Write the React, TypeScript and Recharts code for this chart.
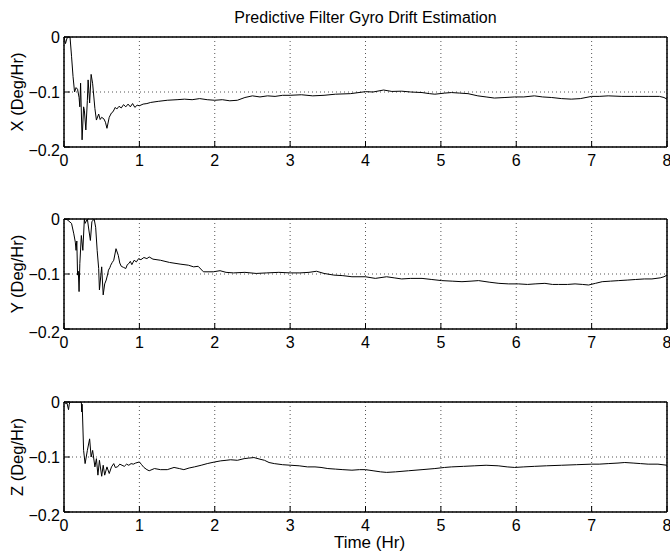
import React from "react";
import { LineChart, Line, XAxis, YAxis, CartesianGrid, Label, ReferenceArea } from "recharts";

const xTicks = [0, 1, 2, 3, 4, 5, 6, 7, 8];
const yTicks = [-0.2, -0.1, 0];
const title = "Predictive Filter Gyro Drift Estimation";
const xLabel = "Time (Hr)";
const channelLabels = ["X (Deg/Hr)", "Y (Deg/Hr)", "Z (Deg/Hr)"];

const xTime = [0,0.02,0.04,0.06,0.08,0.10,0.12,0.14,0.16,0.18,0.20,0.21,0.22,0.24,0.26,0.27,0.29,0.31,0.32,0.34,0.36,0.38,0.41,0.43,0.46,0.48,0.50,0.53,0.55,0.57,0.60,0.63,0.65,0.68,0.70,0.73,0.76,0.79,0.82,0.85,0.88,0.91,0.94,0.97,1.00,1.05,1.10,1.15,1.25,1.37,1.5,1.6,1.7,1.8,1.9,2.0,2.1,2.2,2.3,2.4,2.5,2.6,2.7,2.8,2.9,3.0,3.15,3.3,3.45,3.6,3.8,4.0,4.1,4.24,4.35,4.48,4.6,4.75,4.85,4.92,5.05,5.14,5.25,5.36,5.49,5.6,5.71,5.85,5.98,6.1,6.24,6.35,6.47,6.6,6.73,6.85,7.0,7.1,7.22,7.4,7.57,7.75,7.9,7.96,8.0];
const xDrift = [0,-0.012,-0.002,0,0,-0.035,-0.072,-0.100,-0.092,-0.095,-0.110,-0.127,-0.084,-0.187,-0.127,-0.133,-0.169,-0.115,-0.078,-0.12,-0.068,-0.085,-0.130,-0.151,-0.140,-0.150,-0.146,-0.149,-0.155,-0.166,-0.146,-0.138,-0.136,-0.128,-0.131,-0.126,-0.129,-0.123,-0.127,-0.122,-0.127,-0.121,-0.128,-0.124,-0.125,-0.122,-0.121,-0.119,-0.117,-0.115,-0.114,-0.113,-0.114,-0.112,-0.114,-0.115,-0.114,-0.116,-0.115,-0.110,-0.107,-0.109,-0.107,-0.108,-0.106,-0.106,-0.105,-0.107,-0.106,-0.104,-0.103,-0.0994,-0.100,-0.0964,-0.099,-0.0985,-0.100,-0.101,-0.103,-0.104,-0.102,-0.101,-0.102,-0.103,-0.107,-0.109,-0.111,-0.110,-0.109,-0.109,-0.107,-0.109,-0.110,-0.112,-0.113,-0.112,-0.108,-0.108,-0.107,-0.108,-0.108,-0.108,-0.108,-0.110,-0.113];

const yTime = [0,0.04,0.1,0.13,0.15,0.16,0.17,0.18,0.19,0.20,0.21,0.23,0.25,0.27,0.28,0.31,0.33,0.35,0.37,0.40,0.42,0.44,0.46,0.47,0.50,0.52,0.54,0.56,0.58,0.59,0.61,0.62,0.64,0.66,0.69,0.72,0.74,0.76,0.79,0.82,0.84,0.86,0.88,0.9,0.93,0.96,0.99,1.02,1.06,1.10,1.13,1.18,1.28,1.4,1.54,1.65,1.72,1.78,1.85,1.98,2.07,2.15,2.25,2.4,2.55,2.69,2.85,3.0,3.13,3.25,3.35,3.45,3.58,3.7,3.82,4.0,4.13,4.28,4.38,4.48,4.6,4.75,4.88,5.01,5.15,5.28,5.4,5.5,5.65,5.77,5.9,6.03,6.15,6.25,6.38,6.48,6.56,6.68,6.78,6.88,6.96,7.05,7.14,7.25,7.36,7.48,7.58,7.7,7.8,7.91,7.96,8.0];
const yDrift = [0,-0.001,-0.008,-0.027,-0.042,-0.057,-0.04,-0.102,-0.095,-0.132,-0.081,-0.030,-0.057,0,-0.008,0,-0.02,-0.039,-0.005,0,-0.015,-0.057,-0.09,-0.129,-0.087,-0.138,-0.118,-0.111,-0.1,-0.093,-0.088,-0.084,-0.079,-0.075,-0.054,-0.066,-0.08,-0.086,-0.088,-0.090,-0.083,-0.081,-0.077,-0.083,-0.075,-0.078,-0.072,-0.074,-0.070,-0.072,-0.069,-0.073,-0.075,-0.079,-0.082,-0.084,-0.087,-0.086,-0.096,-0.096,-0.094,-0.097,-0.098,-0.097,-0.099,-0.098,-0.097,-0.098,-0.098,-0.097,-0.095,-0.099,-0.102,-0.103,-0.105,-0.105,-0.108,-0.105,-0.107,-0.109,-0.108,-0.108,-0.110,-0.112,-0.113,-0.114,-0.113,-0.112,-0.115,-0.117,-0.118,-0.118,-0.119,-0.118,-0.117,-0.119,-0.119,-0.119,-0.118,-0.119,-0.120,-0.117,-0.114,-0.113,-0.112,-0.111,-0.110,-0.109,-0.109,-0.107,-0.105,-0.102];

const zTime = [0,0.02,0.04,0.06,0.07,0.08,0.23,0.235,0.24,0.245,0.26,0.28,0.31,0.34,0.36,0.38,0.41,0.43,0.45,0.47,0.50,0.52,0.54,0.57,0.60,0.63,0.66,0.68,0.71,0.74,0.77,0.80,0.83,0.86,0.89,0.92,0.95,1.0,1.03,1.06,1.10,1.13,1.2,1.28,1.37,1.46,1.53,1.59,1.66,1.73,1.82,1.9,2.0,2.08,2.15,2.21,2.3,2.39,2.45,2.52,2.6,2.66,2.72,2.79,2.9,3.01,3.12,3.23,3.33,3.41,3.5,3.6,3.7,3.82,3.92,4.0,4.1,4.2,4.28,4.4,4.57,4.75,4.92,5.05,5.14,5.3,5.45,5.6,5.76,5.88,5.98,6.1,6.24,6.4,6.6,6.8,7.0,7.1,7.22,7.35,7.44,7.55,7.65,7.75,7.88,8.0];
const zDrift = [0,-0.003,-0.002,-0.014,-0.004,0,0,-0.018,-0.004,-0.02,-0.088,-0.112,-0.088,-0.067,-0.100,-0.088,-0.118,-0.103,-0.133,-0.106,-0.135,-0.115,-0.133,-0.118,-0.130,-0.118,-0.112,-0.119,-0.118,-0.113,-0.115,-0.117,-0.113,-0.115,-0.112,-0.113,-0.111,-0.109,-0.114,-0.119,-0.123,-0.125,-0.121,-0.123,-0.123,-0.119,-0.121,-0.123,-0.120,-0.118,-0.115,-0.112,-0.109,-0.107,-0.106,-0.105,-0.106,-0.103,-0.102,-0.101,-0.104,-0.106,-0.110,-0.112,-0.114,-0.115,-0.116,-0.118,-0.118,-0.119,-0.121,-0.122,-0.123,-0.124,-0.123,-0.123,-0.125,-0.127,-0.128,-0.127,-0.125,-0.123,-0.121,-0.119,-0.118,-0.117,-0.116,-0.115,-0.116,-0.118,-0.119,-0.118,-0.117,-0.116,-0.115,-0.114,-0.113,-0.113,-0.112,-0.111,-0.110,-0.111,-0.112,-0.113,-0.113,-0.115];

const build = (t: number[], v: number[]) => t.map((time, i) => ({ t: time, v: v[i] }));
const channels = [build(xTime, xDrift), build(yTime, yDrift), build(zTime, zDrift)];
const chartTops = [0, 182, 365];

const FONT = "'Liberation Sans', Arial, Helvetica, sans-serif";
const TICK_FS = 16;
const fmt = (v: number) => (v === 0 ? "0" : (v < 0 ? "\u2212" : "") + Math.abs(v).toFixed(1));

const YTick = (props: any) => {
  const { x, y, payload } = props;
  const extra = payload.value === -0.2 ? 3 : 0;
  return (
    <text x={x} y={y + extra} dy="0.355em" textAnchor="end" fontSize={TICK_FS} fill="#000" fontFamily={FONT}>
      {fmt(payload.value)}
    </text>
  );
};

const Panel = ({ data, label }: { data: { t: number; v: number }[]; label: string }) => (
  <LineChart width={670} height={180} data={data} margin={{ top: 36, right: 2, bottom: 0, left: 0 }}>
    <CartesianGrid stroke="#555" strokeDasharray="1 3" strokeWidth={1} />
    <ReferenceArea x1={0} x2={8} y1={-0.2} y2={0} fill="none" stroke="#000" strokeWidth={1} ifOverflow="visible" />
    <XAxis
      dataKey="t"
      type="number"
      domain={[0, 8]}
      ticks={xTicks}
      interval={0}
      height={33}
      tickSize={-6}
      tickMargin={14}
      axisLine={{ stroke: "#000", strokeWidth: 1 }}
      tickLine={{ stroke: "#000" }}
      tick={{ fill: "#000", fontSize: TICK_FS, fontFamily: FONT }}
      allowDataOverflow
    />
    <XAxis
      xAxisId="top"
      orientation="top"
      dataKey="t"
      type="number"
      domain={[0, 8]}
      ticks={xTicks}
      interval={0}
      height={1}
      tickSize={-6}
      tick={false}
      axisLine={{ stroke: "#000", strokeWidth: 1 }}
      tickLine={{ stroke: "#000" }}
      allowDataOverflow
    />
    <YAxis
      type="number"
      domain={[-0.2, 0]}
      ticks={yTicks}
      interval={0}
      width={64}
      tickSize={-6}
      tickMargin={10}
      axisLine={{ stroke: "#000", strokeWidth: 1 }}
      tickLine={{ stroke: "#000" }}
      tick={<YTick />}
      allowDataOverflow
    >
      <Label
        value={label}
        angle={-90}
        position="insideLeft"
        offset={17}
        style={{ textAnchor: "middle", fontSize: 16.5, fontFamily: FONT, fill: "#000" }}
      />
    </YAxis>
    <YAxis
      yAxisId="right"
      orientation="right"
      type="number"
      domain={[-0.2, 0]}
      ticks={yTicks}
      interval={0}
      width={1}
      tickSize={-6}
      tick={false}
      axisLine={{ stroke: "#000", strokeWidth: 1 }}
      tickLine={{ stroke: "#000" }}
      allowDataOverflow
    />
    <Line
      type="linear"
      dataKey="v"
      stroke="#000"
      strokeWidth={1}
      dot={false}
      activeDot={false}
      isAnimationActive={false}
    />
  </LineChart>
);

export default function App() {
  return (
    <div
      style={{
        position: "absolute",
        left: 0,
        top: 0,
        width: 670,
        height: 552,
        background: "#fff",
        fontFamily: FONT,
        overflow: "hidden",
      }}
    >
      <div
        style={{
          position: "absolute",
          left: 64,
          width: 603,
          top: 10,
          fontSize: 16,
          lineHeight: "16px",
          textAlign: "center",
          color: "#000",
        }}
      >
        {title}
      </div>
      {channels.map((d, i) => (
        <div key={i} style={{ position: "absolute", left: 0, top: chartTops[i] }}>
          <Panel data={d} label={channelLabels[i]} />
        </div>
      ))}
      <div
        style={{
          position: "absolute",
          left: 68,
          width: 603,
          top: 534,
          fontSize: 17,
          lineHeight: "17px",
          textAlign: "center",
          color: "#000",
        }}
      >
        {xLabel}
      </div>
    </div>
  );
}
